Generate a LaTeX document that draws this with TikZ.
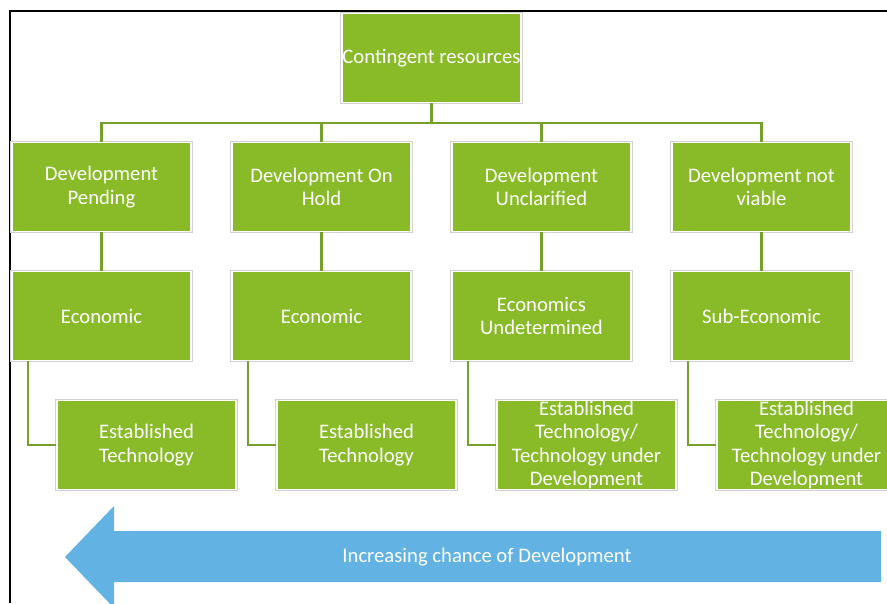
\documentclass[tikz,border=0pt]{standalone}
\usepackage{fontspec}
\setmainfont{Carlito}
\usepackage{xcolor}
\usetikzlibrary{positioning}

\definecolor{boxgreen}{RGB}{137,187,41}
\definecolor{linkgreen}{RGB}{118,160,44}
\definecolor{arrowblue}{RGB}{98,179,227}

\begin{document}
\begin{tikzpicture}[x=0.75pt, y=-0.75pt, node distance=96.75pt,
    box/.style={align=center, fill=boxgreen, draw=white, line width=1.2pt, text=white,
        minimum width=134.5pt, minimum height=66.5pt, inner sep=0pt,
        font=\fontsize{15.5}{17.4}\selectfont, preaction={draw=black!18, line width=3pt}},
    link/.style={draw=linkgreen, line width=2pt}]
            \useasboundingbox (0,0) rectangle (887,603);
            \draw[line width=1.5pt] (9.5,603) -- (9.5,11) -- (887,11);
            \node[box] (contingent) at (431.5,58) {Contingent resources};
            \node[box] (dev_pending) [below of=contingent, xshift=-247.5pt] {Development\\Pending};
            \node[box] (dev_hold) [below of=contingent, xshift=-82.5pt] {Development On\\Hold};
            \node[box] (dev_unclarified) [below of=contingent, xshift=82.5pt] {Development\\Unclarified};
            \node[box] (dev_not_viable) [below of=contingent, xshift=247.5pt] {Development not\\viable};
            \node[box] (econ_pending) [below of=dev_pending] {Economic};
            \node[box] (econ_hold) [below of=dev_hold] {Economic};
            \node[box] (econ_unclarified) [below of=dev_unclarified] {Economics\\Undetermined};
            \node[box] (econ_not_viable) [below of=dev_not_viable] {Sub-Economic};
            \node[box] (tech_pending) [below of=econ_pending, xshift=33.75pt] {Established\\Technology};
            \node[box] (tech_hold) [below of=econ_hold, xshift=33.75pt] {Established\\Technology};
            \node[box] (tech_unclarified) [below of=econ_unclarified, xshift=33.75pt] {Established\\Technology/\\Technology under\\Development};
            \node[box] (tech_not_viable) [below of=econ_not_viable, xshift=33.75pt] {Established\\Technology/\\Technology under\\Development};
            \coordinate (bus) at (431.5,123);
            \draw[link] (contingent.south) -- (bus);
            \draw[link] (bus) -| (dev_pending.north);
            \draw[link] (bus) -| (dev_hold.north);
            \draw[link] (bus) -| (dev_unclarified.north);
            \draw[link] (bus) -| (dev_not_viable.north);
            \draw[link] (dev_pending) -- (econ_pending);
            \draw[link] (dev_hold) -- (econ_hold);
            \draw[link] (dev_unclarified) -- (econ_unclarified);
            \draw[link] (dev_not_viable) -- (econ_not_viable);
            \draw[link] ([xshift=12.75pt]econ_pending.south west) |- (tech_pending.west);
            \draw[link] ([xshift=12.75pt]econ_hold.south west) |- (tech_hold.west);
            \draw[link] ([xshift=12.75pt]econ_unclarified.south west) |- (tech_unclarified.west);
            \draw[link] ([xshift=12.75pt]econ_not_viable.south west) |- (tech_not_viable.west);
            \fill[arrowblue] (881,531) -- (114,531) -- (114,506) -- (65,557) -- (114,608) -- (114,582) -- (881,582) -- cycle;
            \node[text=white, font=\fontsize{15.5}{17.4}\selectfont] (chance) at (487,557) {Increasing chance of Development};
        \end{tikzpicture}
\end{document}
